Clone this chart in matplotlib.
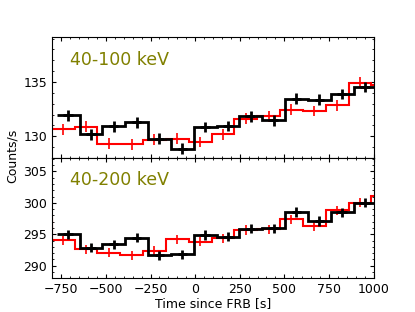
import numpy as np
import matplotlib
matplotlib.use("Agg")
import matplotlib.pyplot as plt
from matplotlib.ticker import MultipleLocator

# Bin edges (s since FRB)
black_edges = [-776, -648, -520, -392, -264, -136, -8, 120, 248, 376, 504, 632, 760, 888, 1016]
red_edges = [-930, -802, -676, -548, -420, -292, -164, -36, 92, 220, 348, 476, 604, 732, 860, 988, 1116]

black_centers = [-712, -584, -456, -328, -200, -72, 56, 184, 312, 440, 568, 696, 824, 952]
red_centers = [-739, -612, -484, -356, -228, -100, 28, 156, 284, 412, 540, 668, 796, 924]

# 40-100 keV
black_100 = [131.93, 130.2, 130.92, 131.3, 129.79, 128.87, 130.86, 130.95, 131.84, 131.47, 133.47, 133.37, 133.9, 134.54]
red_100 = [133.2, 130.67, 130.89, 129.33, 129.26, 129.7, 129.79, 129.48, 130.18, 131.63, 131.84, 132.45, 132.33, 132.85, 134.94, 134.7]
red_100_pts = red_100[1:15]

# 40-200 keV
black_200 = [295.0, 292.87, 293.4, 294.47, 291.66, 291.82, 294.9, 294.62, 295.9, 295.95, 298.55, 297.12, 298.5, 300.03]
red_200 = [297.4, 294.04, 292.6, 292.08, 291.66, 292.35, 294.2, 293.85, 294.36, 295.68, 295.79, 297.38, 296.32, 298.8, 300.03, 301.1]
red_200_pts = red_200[1:15]

panel_labels = ["40-100 keV", "40-200 keV"]

fig, axes = plt.subplots(2, 1, figsize=(4.15, 3.12), dpi=100, sharex=True)
fig.subplots_adjust(left=0.125, right=0.9, top=0.88, bottom=0.11, hspace=0)

datasets = [
    (black_100, red_100, red_100_pts, 0.5, (128.05, 139.1), [130, 135]),
    (black_200, red_200, red_200_pts, 0.75, (288.1, 307.2), [290, 295, 300, 305]),
]

for ax, (bvals, rvals, rpts, err, ylim, yt), lab in zip(axes, datasets, panel_labels):
    ax.stairs(rvals, red_edges, baseline=None, color="red", lw=1.5, zorder=2)
    ax.errorbar(red_centers, rpts, xerr=26, yerr=err, fmt="none", ecolor="red", elinewidth=1.2, zorder=3)
    ax.stairs(bvals, black_edges, baseline=None, color="black", lw=2, zorder=4)
    ax.errorbar(black_centers, bvals, xerr=26, yerr=err, fmt="none", ecolor="black", elinewidth=2, zorder=5)
    ax.set_ylim(*ylim)
    ax.set_yticks(yt)
    ax.yaxis.set_minor_locator(MultipleLocator(1))
    ax.xaxis.set_major_locator(MultipleLocator(250))
    ax.xaxis.set_minor_locator(MultipleLocator(50))
    ax.tick_params(which="both", direction="in", top=True, right=True, labelsize=9)
    ax.tick_params(which="major", length=3)
    ax.tick_params(which="minor", length=1.5)
    ax.text(0.056, 0.81, lab, transform=ax.transAxes, color="#808000", fontsize=12.5, va="center", ha="left")

axes[1].set_xlim(-803, 1000)
axes[1].set_xlabel("Time since FRB [s]", fontsize=9, labelpad=1)
fig.text(0.03, 0.5, "Counts/s", rotation=90, va="center", ha="center", fontsize=9)

fig.savefig("out.png", dpi=100)
